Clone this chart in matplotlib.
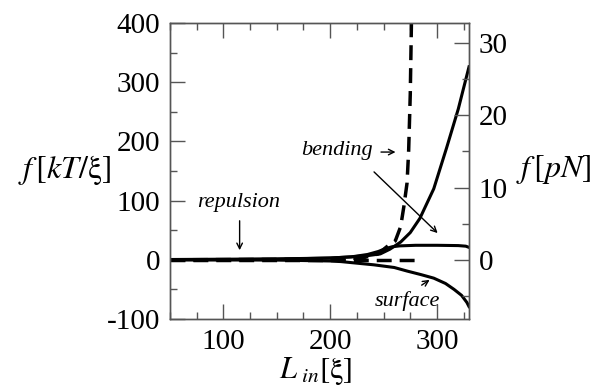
import numpy as np
import matplotlib
matplotlib.use('Agg')
import matplotlib.pyplot as plt
from matplotlib.ticker import MultipleLocator

plt.rcParams['font.family'] = ['Liberation Serif', 'DejaVu Serif']
plt.rcParams['mathtext.fontset'] = 'stix'
plt.rcParams['axes.unicode_minus'] = False

# force curves, f in kT/xi versus L_in in xi
L_total = [50, 100, 150, 200, 220, 235, 247, 256, 266, 275, 284, 297, 309, 320, 330]
f_total = [0, 0.3, 1, 3, 5, 7, 10, 18, 30, 46, 70, 120, 189, 255, 326]

L_bend = [50, 100, 150, 200, 220, 235, 245, 252, 258, 265, 280, 300, 320, 327, 330]
f_bend = [0.5, 1, 1.5, 3, 5, 9, 14, 19, 22, 23.5, 24.5, 24.5, 24, 23, 21]

L_surf = [50, 150, 200, 210, 241, 260, 272, 285, 297, 308, 316, 323, 328, 330]
f_surf = [0, -0.5, -2, -3, -8.5, -13, -19, -25, -31, -40, -50, -60, -72, -79]

L_rep = [50, 200, 230, 245, 253, 261, 266, 269, 272, 273.5, 275, 276, 276.4]
f_rep = [0, 1, 3, 10, 22, 32, 56, 90, 130, 185, 280, 390, 450]

L_zero = [50, 280]
f_zero = [0, 0]

pN_per_unit = 1 / 12.2   # right axis scale

fig = plt.figure(figsize=(6.01, 3.90), dpi=100)
ax = fig.add_axes([170 / 601, 71 / 390, 299 / 601, 296 / 390])

dash = (0, (4.3, 2.3))
ax.plot(L_total, f_total, color='black', lw=2.2)
ax.plot(L_bend, f_bend, color='black', lw=2.2)
ax.plot(L_surf, f_surf, color='black', lw=2.2)
ax.plot(L_rep, f_rep, color='black', lw=2.5, linestyle=dash)
ax.plot(L_zero, f_zero, color='black', lw=2.5, linestyle=dash)

ax.set_xlim(50, 330)
ax.set_ylim(-100, 400)
ax.xaxis.set_major_locator(MultipleLocator(100))
ax.xaxis.set_minor_locator(MultipleLocator(25))
ax.yaxis.set_major_locator(MultipleLocator(100))
ax.yaxis.set_minor_locator(MultipleLocator(50))

ax2 = ax.twinx()
ax2.set_ylim(-100 * pN_per_unit, 400 * pN_per_unit)
ax2.yaxis.set_major_locator(MultipleLocator(10))
ax2.yaxis.set_minor_locator(MultipleLocator(5))

spine_col = '#555555'
for a in (ax, ax2):
    for s in a.spines.values():
        s.set_color(spine_col)
        s.set_linewidth(1.0)
ax.tick_params(which='both', direction='in', top=True, right=False, color=spine_col,
               labelsize=21, pad=7)
ax.tick_params(which='major', length=11, width=1)
ax.tick_params(which='minor', length=5, width=1)
ax2.tick_params(which='both', direction='in', left=False, right=True, color=spine_col,
                labelsize=21, pad=7)
ax2.tick_params(which='major', length=11, width=1)
ax2.tick_params(which='minor', length=5, width=1)

# annotations
ax.text(114.3, 96, 'repulsion', style='italic', fontsize=16, ha='center', va='center')
ax.annotate('', xy=(115.2, 11.5), xytext=(115.2, 70.6),
            arrowprops=dict(arrowstyle='->', lw=1.0, color='black'))
ax.text(206.8, 184, 'bending', style='italic', fontsize=16, ha='center', va='center')
ax.annotate('', xy=(263.8, 182), xytext=(245, 182),
            arrowprops=dict(arrowstyle='->', lw=1.0, color='black'))
ax.annotate('', xy=(302.5, 41.9), xytext=(239.2, 151.7),
            arrowprops=dict(arrowstyle='->', lw=1.0, color='black'))
ax.text(272, -69, 'surface', style='italic', fontsize=16, ha='center', va='center')
ax.annotate('', xy=(295.3, -31.3), xytext=(283.5, -45.4),
            arrowprops=dict(arrowstyle='->', lw=1.0, color='black'))

fig.text(64.5 / 601, 1 - 170 / 390, r'$f\,[kT/\mathrm{\xi}]$', fontsize=23,
         ha='center', va='center')
fig.text(554 / 601, 1 - 170 / 390, r'$f\,[pN]$', fontsize=23, ha='center', va='center')
fig.text(316 / 601, 1 - 371 / 390, r'$L_{\ in}[\mathrm{\xi}]$', fontsize=22,
         ha='center', va='center')

fig.savefig('out.png', dpi=100)
